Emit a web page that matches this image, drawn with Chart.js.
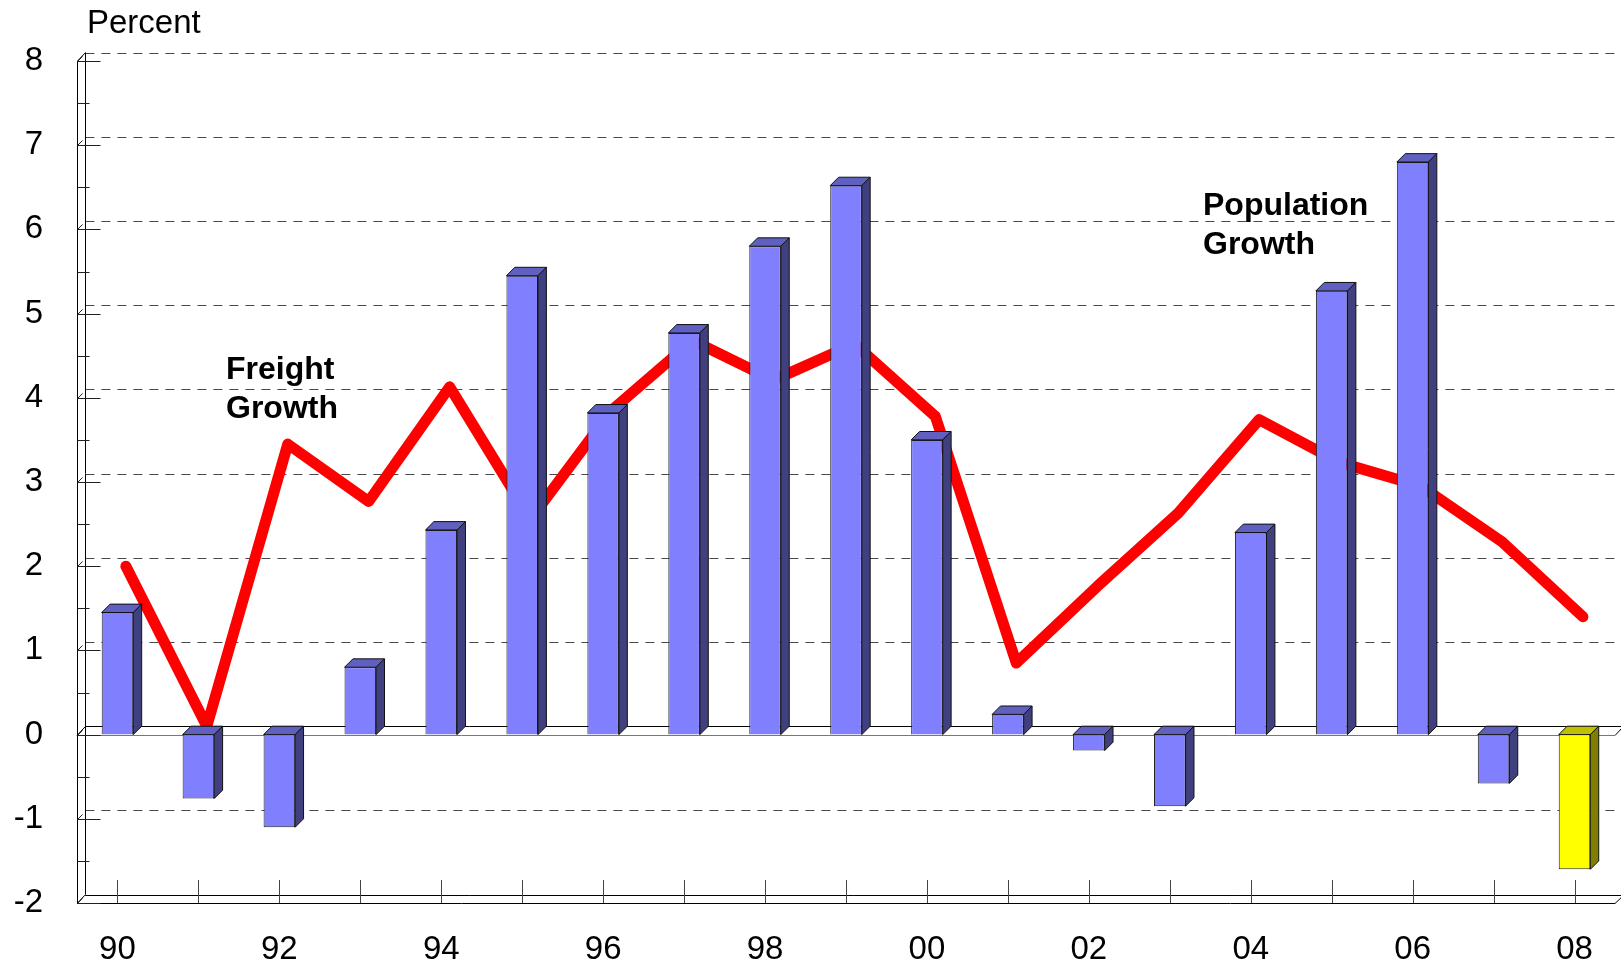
<!DOCTYPE html>
<html>
<head>
<meta charset="utf-8">
<title>Freight Growth / Population Growth</title>
<script src="https://cdn.jsdelivr.net/npm/chart.js@4.4.1/dist/chart.umd.min.js"></script>
<style>
    html, body { margin: 0; padding: 0; background: #fff; }
</style>
</head>
<body>
<canvas id="growthChart" width="1621" height="965"></canvas>
<script>
// Data
const years = ['90', '91', '92', '93', '94', '95', '96', '97', '98', '99',
               '00', '01', '02', '03', '04', '05', '06', '07', '08'];
const populationGrowth = [1.45, -0.76, -1.10, 0.80, 2.43, 5.45, 3.82, 4.77, 5.80, 6.52,
                          3.50, 0.24, -0.19, -0.85, 2.40, 5.27, 6.80, -0.58, -1.60];
const freightGrowth = [1.90, 0.00, 3.35, 2.67, 4.03, 2.46, 3.75, 4.58, 4.11, 4.54,
                       3.68, 0.75, 1.66, 2.53, 3.64, 3.13, 2.85, 2.19, 1.30];
const yMin = -2;
const yMax = 8;
const highlightYears = ['08'];

// 3D depth of the pseudo-3D look (pixels)
const DEPTH = 8.4;
const FONT = 'Arial, "Liberation Sans", sans-serif';

const blueFaces = { front: '#8080FF', top: '#6060C0', side: '#404080' };
const yellowFaces = { front: '#FFFF00', top: '#C0C000', side: '#808000' };
const faces = years.map(y => highlightYears.includes(y) ? yellowFaces : blueFaces);

function poly(ctx, pts, fill) {
    ctx.beginPath();
    ctx.moveTo(pts[0][0], pts[0][1]);
    for (let i = 1; i < pts.length; i++) ctx.lineTo(pts[i][0], pts[i][1]);
    ctx.closePath();
    ctx.fillStyle = fill;
    ctx.fill();
    ctx.stroke();
}

function line(ctx, x1, y1, x2, y2) {
    ctx.beginPath();
    ctx.moveTo(x1, y1);
    ctx.lineTo(x2, y2);
    ctx.stroke();
}

// Back wall, floor, axes and 3D bar faces
const pseudo3d = {
    id: 'pseudo3d',
    beforeDatasetsDraw(chart) {
        const { ctx, chartArea: a, scales: { x, y } } = chart;
        const y0 = y.getPixelForValue(0);
        ctx.save();

        // dashed grid lines on the back wall
        ctx.strokeStyle = '#4a4a4a';
        ctx.lineWidth = 1;
        ctx.setLineDash([9, 7]);
        y.ticks.forEach(t => {
            if (t.value === 0) return;
            const py = Math.round(y.getPixelForValue(t.value) - DEPTH) + 0.5;
            line(ctx, a.left + DEPTH, py, a.right + DEPTH, py);
        });
        ctx.setLineDash([]);

        // zero plane
        ctx.strokeStyle = '#000';
        const zb = Math.round(y0 - DEPTH) + 0.5;
        const zf = Math.round(y0) + 0.5;
        line(ctx, a.left + DEPTH, zb, a.right + DEPTH, zb);
        line(ctx, a.left, zf, a.left + DEPTH, zb);
        line(ctx, a.right, zf, a.right + DEPTH, zb);
        ctx.strokeStyle = '#777';
        line(ctx, a.left, zf, a.right, zf);

        // floor at the bottom
        ctx.strokeStyle = '#000';
        const fb = Math.round(a.bottom - DEPTH) + 0.5;
        const ff = Math.round(a.bottom) + 0.5;
        line(ctx, a.left + DEPTH, fb, a.right + DEPTH, fb);
        line(ctx, a.left, ff, a.right, ff);
        line(ctx, a.right, ff, a.right + DEPTH, fb);

        // y axis: front and back edge
        const lx = Math.round(a.left) + 0.5;
        const bx = Math.round(a.left + DEPTH) + 0.5;
        line(ctx, lx, a.top, lx, a.bottom);
        line(ctx, bx, a.top - DEPTH, bx, a.bottom - DEPTH);
        line(ctx, lx, a.top, bx, a.top - DEPTH);
        line(ctx, lx, a.bottom, bx, a.bottom - DEPTH);

        // y ticks, major and minor
        ctx.strokeStyle = '#222';
        y.ticks.forEach((t, i) => {
            const py = Math.round(y.getPixelForValue(t.value)) + 0.5;
            line(ctx, lx, py, lx + 23, py);
            line(ctx, lx, py, lx + DEPTH * 0.6, py - DEPTH * 0.6);
            if (i < y.ticks.length - 1) {
                const mid = (t.value + y.ticks[i + 1].value) / 2;
                const pm = Math.round(y.getPixelForValue(mid)) + 0.5;
                line(ctx, lx, pm, lx + 12, pm);
            }
        });

        // x ticks at every year
        ctx.strokeStyle = '#444';
        years.forEach((yr, i) => {
            const px = Math.round(x.getPixelForValue(i)) + 0.5;
            line(ctx, px, a.bottom - 23, px, a.bottom);
        });

        ctx.restore();
    },
    beforeDatasetDraw(chart, args) {
        // freight line sits on the back wall
        if (args.meta.type === 'line') {
            chart.ctx.save();
            chart.ctx.translate(DEPTH, -DEPTH);
        }
    },
    afterDatasetDraw(chart, args) {
        const ctx = chart.ctx;
        if (args.meta.type === 'line') {
            ctx.restore();
            return;
        }
        ctx.save();
        ctx.lineWidth = 1;
        ctx.strokeStyle = '#111';
        ctx.lineJoin = 'miter';
        args.meta.data.forEach((bar, i) => {
            const p = bar.getProps(['x', 'y', 'base', 'width'], true);
            const l = p.x - p.width / 2;
            const r = p.x + p.width / 2;
            const top = Math.min(p.y, p.base);
            const bot = Math.max(p.y, p.base);
            const f = faces[i];
            poly(ctx, [[l, top], [l + DEPTH, top - DEPTH], [r + DEPTH, top - DEPTH], [r, top]], f.top);
            poly(ctx, [[r, top], [r + DEPTH, top - DEPTH], [r + DEPTH, bot - DEPTH], [r, bot]], f.side);
        });
        ctx.restore();
    },
    afterDraw(chart) {
        const ctx = chart.ctx;
        ctx.save();
        ctx.fillStyle = '#000';
        ctx.textBaseline = 'alphabetic';
        ctx.textAlign = 'left';
        ctx.font = '33px ' + FONT;
        ctx.fillText('Percent', 87, 33);
        ctx.font = 'bold 32px ' + FONT;
        ctx.fillText('Freight', 226, 379);
        ctx.fillText('Growth', 226, 418);
        ctx.fillText('Population', 1203, 215);
        ctx.fillText('Growth', 1203, 254);
        ctx.restore();
    }
};

const ctx = document.getElementById('growthChart').getContext('2d');
new Chart(ctx, {
    type: 'bar',
    data: {
        labels: years,
        datasets: [{
            type: 'bar',
            label: 'Population Growth',
            data: populationGrowth,
            backgroundColor: faces.map(f => f.front),
            borderColor: '#222',
            borderWidth: 1,
            barPercentage: 0.39,
            categoryPercentage: 1.0,
            order: 1
        }, {
            type: 'line',
            label: 'Freight Growth',
            data: freightGrowth,
            borderColor: '#FF0000',
            borderWidth: 11,
            borderCapStyle: 'round',
            borderJoinStyle: 'round',
            pointRadius: 0,
            tension: 0,
            fill: false,
            clip: false,
            order: 2
        }]
    },
    options: {
        responsive: false,
        animation: false,
        layout: {
            padding: { top: 61, right: 6, left: 0, bottom: 0 }
        },
        scales: {
            x: {
                offset: true,
                grid: { display: false, drawTicks: false },
                border: { display: false },
                ticks: {
                    autoSkip: false,
                    maxRotation: 0,
                    padding: 27,
                    color: '#000',
                    font: { family: FONT, size: 33 },
                    callback: function(value, index) {
                        return index % 2 === 0 ? years[index] : '';
                    }
                },
                afterFit: function(scale) { scale.height = 62; }
            },
            y: {
                min: yMin,
                max: yMax,
                grid: { display: false, drawTicks: false },
                border: { display: false },
                ticks: {
                    stepSize: 1,
                    padding: 34,
                    color: '#000',
                    font: { family: FONT, size: 33 }
                },
                afterFit: function(scale) { scale.width = 77; }
            }
        },
        plugins: {
            legend: { display: false },
            tooltip: { enabled: false }
        }
    },
    plugins: [pseudo3d]
});
</script>
</body>
</html>
